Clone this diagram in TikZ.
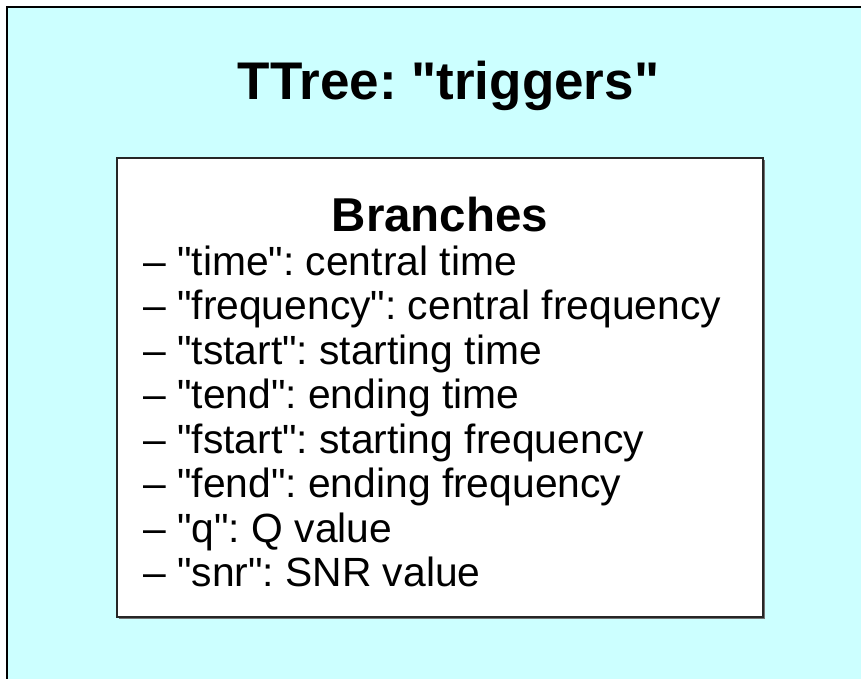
\documentclass[tikz,border=0pt]{standalone}
\usepackage{fontspec}
% plain family: no TeX mapping, so " stays a straight quote
\newfontfamily\plainsans{Liberation Sans}
\definecolor{panelcyan}{HTML}{CCFFFF}
\frenchspacing
\begin{document}
\begin{tikzpicture}[x=1pt,y=-1pt,
  panel/.style={fill=panelcyan, draw=black, line width=1.5pt},
  card/.style={fill=white, draw=black!85, line width=1.2pt},
  cardshadow/.style={fill=black!55},
  titletext/.style={inner sep=0pt, anchor=base, font=\plainsans\fontsize{53}{60}\selectfont\bfseries},
  headtext/.style={inner sep=0pt, anchor=base, font=\plainsans\fontsize{47.5}{54}\selectfont\bfseries},
  itemtext/.style={inner sep=0pt, anchor=base west, font=\plainsans\fontsize{40.8}{46}\selectfont}]
  \useasboundingbox (0,0) rectangle (861,678);
  % background panel, running off the right and bottom edges
  \begin{scope}
    \clip (0,0) rectangle (861,678);
    \fill[fill=black!30] (9,9) rectangle (880,700);
    \draw[panel] (7,7) rectangle (880,700);
  \end{scope}
  \node[titletext] (title) at (448.5,99) {TTree: "triggers"};
  % white card with a thin drop shadow
  \fill[cardshadow] (119,160) rectangle (765,619);
  \draw[card] (117,158) rectangle (763,617);
  \node[headtext] (head) at (440,231) {Branches};
  \foreach \t [count=\i from 0] in {%
      {– "time": central time},
      {– "frequency": central frequency},
      {– "tstart": starting time},
      {– "tend": ending time},
      {– "fstart": starting frequency},
      {– "fend": ending frequency},
      {– "q": Q value},
      {– "snr": SNR value}}
    \node[itemtext] (item\i) at (143,{275+44.5*\i}) {\t};
\end{tikzpicture}
\end{document}
